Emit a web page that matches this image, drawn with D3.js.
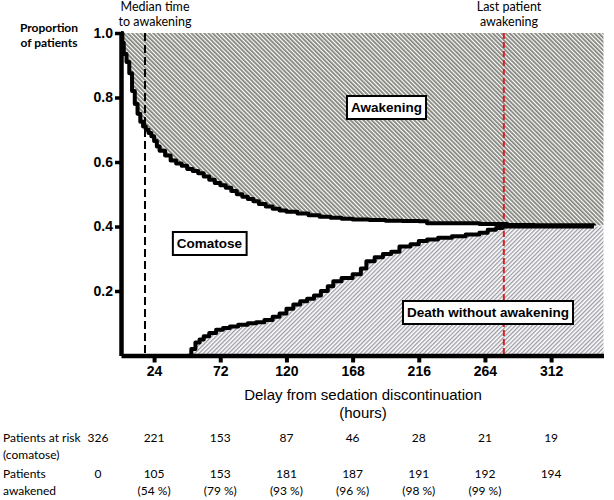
<!DOCTYPE html>
<html>
<head>
<meta charset="utf-8">
<script src="https://cdn.jsdelivr.net/npm/d3@7"></script>
<style>
  html, body { margin: 0; padding: 0; background: #fff; }
  svg { display: block; }
  .tick text { font-family: Arial, "Liberation Sans", sans-serif; font-weight: bold; font-size: 14px; fill: #000; }
</style>
</head>
<body>
<svg id="chart" width="614" height="500"></svg>
<script>
// ---- data ----
// Upper curve: proportion not yet awakened (comatose + dead), by hours
const awakeningCurve = [
  [0,1.0],[1,0.97],[2,0.935],[4,0.91],[6,0.875],[8,0.82],[10,0.78],[12,0.75],[14,0.725],[16,0.71],
  [18,0.70],[20,0.69],[22,0.68],[24,0.665],[26,0.648],[28,0.635],[32,0.62],[36,0.605],[40,0.595],
  [44,0.588],[48,0.578],[52,0.572],[56,0.565],[60,0.555],[64,0.545],[68,0.535],[72,0.528],[76,0.52],
  [80,0.51],[84,0.50],[88,0.492],[92,0.485],[96,0.478],[100,0.47],[105,0.462],[110,0.455],[115,0.45],
  [120,0.446],[128,0.44],[136,0.435],[144,0.43],[152,0.427],[160,0.424],[168,0.422],[180,0.42],
  [192,0.418],[204,0.417],[216,0.416],[222,0.41],[240,0.41],[260,0.408],[280,0.405],[300,0.404],[343,0.403]
];
// Lower curve: cumulative proportion of death without awakening
const deathCurve = [
  [0,0],[49,0],[51,0.02],[54,0.04],[57,0.05],[60,0.06],[64,0.07],[69,0.08],[74,0.085],[79,0.09],
  [85,0.095],[92,0.10],[98,0.103],[104,0.11],[110,0.12],[115,0.13],[120,0.145],[125,0.158],[130,0.168],
  [135,0.176],[140,0.186],[145,0.20],[150,0.215],[154,0.23],[160,0.24],[168,0.252],[174,0.27],[178,0.292],
  [184,0.305],[190,0.315],[196,0.322],[202,0.338],[210,0.345],[216,0.355],[222,0.36],[230,0.365],
  [240,0.37],[250,0.375],[260,0.381],[266,0.39],[272,0.395],[277,0.40],[343,0.40]
];
const xMax = 350;
const medianTime = 17.4;
const lastAwakening = 277.7;
const xTicks = [24, 72, 120, 168, 216, 264, 312];
const yTicks = [0.2, 0.4, 0.6, 0.8, 1.0];
const atRisk = [326, 221, 153, 87, 46, 28, 21, 19];
const awakened = [0, 105, 153, 181, 187, 191, 192, 194];
const awakenedPct = ["", "(54 %)", "(79 %)", "(93 %)", "(96 %)", "(98 %)", "(99 %)", ""];
const tableHours = [0, 24, 72, 120, 168, 216, 264, 312];

// ---- drawing ----
const svg = d3.select("#chart");
const x = d3.scaleLinear().domain([0, xMax]).range([121, 603.5]);
const y = d3.scaleLinear().domain([0, 1]).range([355.5, 33]);

const defs = svg.append("defs");
const p1 = defs.append("pattern").attr("id", "hatchTop").attr("patternUnits", "userSpaceOnUse")
  .attr("width", 3).attr("height", 3).attr("patternTransform", "rotate(-45)");
p1.append("rect").attr("width", 3).attr("height", 3).attr("fill", "#fff");
p1.append("rect").attr("width", 1.8).attr("height", 3).attr("fill", "#84847e");
const p2 = defs.append("pattern").attr("id", "hatchBottom").attr("patternUnits", "userSpaceOnUse")
  .attr("width", 3).attr("height", 3).attr("patternTransform", "rotate(45)");
p2.append("rect").attr("width", 3).attr("height", 3).attr("fill", "#fff");
p2.append("rect").attr("width", 1.3).attr("height", 3).attr("fill", "#9a9aa4");

const topArea = awakeningCurve.concat([[xMax, awakeningCurve[awakeningCurve.length - 1][1]]]);
const botArea = deathCurve.concat([[xMax, deathCurve[deathCurve.length - 1][1]]]);

svg.append("path").datum(topArea)
  .attr("d", d3.area().curve(d3.curveStepAfter).x(d => x(d[0])).y0(y(1)).y1(d => y(d[1])))
  .attr("fill", "url(#hatchTop)");
svg.append("path").datum(botArea)
  .attr("d", d3.area().curve(d3.curveStepAfter).x(d => x(d[0])).y0(y(0)).y1(d => y(d[1])))
  .attr("fill", "url(#hatchBottom)");

// reference lines
svg.append("line").attr("x1", x(medianTime)).attr("x2", x(medianTime)).attr("y1", y(1)).attr("y2", y(0))
  .attr("stroke", "#000").attr("stroke-width", 2).attr("stroke-dasharray", "8,4");
svg.append("line").attr("x1", x(lastAwakening)).attr("x2", x(lastAwakening)).attr("y1", y(1)).attr("y2", y(0))
  .attr("stroke", "#d42020").attr("stroke-width", 2).attr("stroke-dasharray", "6,3");

// curves
const line = d3.line().curve(d3.curveStepAfter).x(d => x(d[0])).y(d => y(d[1]));
svg.append("path").datum(awakeningCurve).attr("d", line).attr("fill", "none")
  .attr("stroke", "#000").attr("stroke-width", 4).attr("stroke-linejoin", "round");
svg.append("path").datum(deathCurve.filter(d => d[0] >= 49)).attr("d", line).attr("fill", "none")
  .attr("stroke", "#000").attr("stroke-width", 4).attr("stroke-linejoin", "round");

// axes
const yAxis = svg.append("g").attr("transform", `translate(${x(0)},0)`)
  .call(d3.axisLeft(y).tickValues(yTicks).tickFormat(d3.format(".1f")).tickSize(6).tickSizeOuter(0).tickPadding(2));
yAxis.select(".domain").attr("stroke-width", 4.5).attr("stroke", "#000");
yAxis.selectAll(".tick line").attr("stroke-width", 3.5);

const xAxis = svg.append("g").attr("transform", `translate(0,${y(0)})`)
  .call(d3.axisBottom(x).tickValues(xTicks).tickSize(7).tickSizeOuter(0).tickPadding(4));
xAxis.select(".domain").attr("stroke-width", 4.5).attr("stroke", "#000");
xAxis.selectAll(".tick line").attr("stroke-width", 4);

// labels
const calib = "Lato, 'Open Sans', sans-serif";
function multiText(lines, cx, y0, dy, opts) {
  const t = svg.append("text").attr("text-anchor", opts.anchor || "middle")
    .attr("font-family", opts.family).attr("font-size", opts.size).attr("font-weight", opts.weight || "normal");
  lines.forEach((l, i) => t.append("tspan").attr("x", cx).attr("y", y0 + i * dy).text(l));
  return t;
}
multiText(["Proportion", "of patients"], 49, 32, 15, {family: calib, size: 12, weight: "bold"});
multiText(["Median time", "to awakening"], 155, 11, 15, {family: calib, size: 12.5});
multiText(["Last patient", "awakening"], 509, 11, 15, {family: calib, size: 12.5});
multiText(["Delay from sedation discontinuation", "(hours)"], 363, 400, 18, {family: "Arial, 'Liberation Sans', sans-serif", size: 15});

// boxed labels
function boxLabel(text, cx, cy) {
  const t = svg.append("text").attr("x", cx).attr("y", cy).attr("text-anchor", "middle")
    .attr("dominant-baseline", "central")
    .attr("font-family", "Arial, 'Liberation Sans', sans-serif").attr("font-weight", "bold").attr("font-size", 13.5)
    .text(text);
  const bb = t.node().getBBox();
  svg.insert("rect", () => t.node())
    .attr("x", bb.x - 4).attr("y", cy - 11.5).attr("width", bb.width + 8).attr("height", 23)
    .attr("fill", "#fff").attr("stroke", "#000").attr("stroke-width", 2);
}
boxLabel("Awakening", 386.5, 107.5);
boxLabel("Comatose", 209.5, 243.5);
boxLabel("Death without awakening", 488, 312.5);

// table
const tfs = 12;
const colX = h => h === 0 ? x(0) - 23 : x(h);
multiText(["Patients at risk", "(comatose)"], 3, 442, 17, {family: calib, size: tfs, anchor: "start"});
multiText(["Patients", "awakened"], 3, 478, 17, {family: calib, size: tfs, anchor: "start"});
tableHours.forEach((h, i) => {
  svg.append("text").attr("x", colX(h)).attr("y", 442).attr("text-anchor", "middle")
    .attr("font-family", calib).attr("font-size", tfs).text(atRisk[i]);
  svg.append("text").attr("x", colX(h)).attr("y", 478).attr("text-anchor", "middle")
    .attr("font-family", calib).attr("font-size", tfs).text(awakened[i]);
  if (awakenedPct[i]) svg.append("text").attr("x", colX(h)).attr("y", 495).attr("text-anchor", "middle")
    .attr("font-family", calib).attr("font-size", tfs).text(awakenedPct[i]);
});
</script>
</body>
</html>
